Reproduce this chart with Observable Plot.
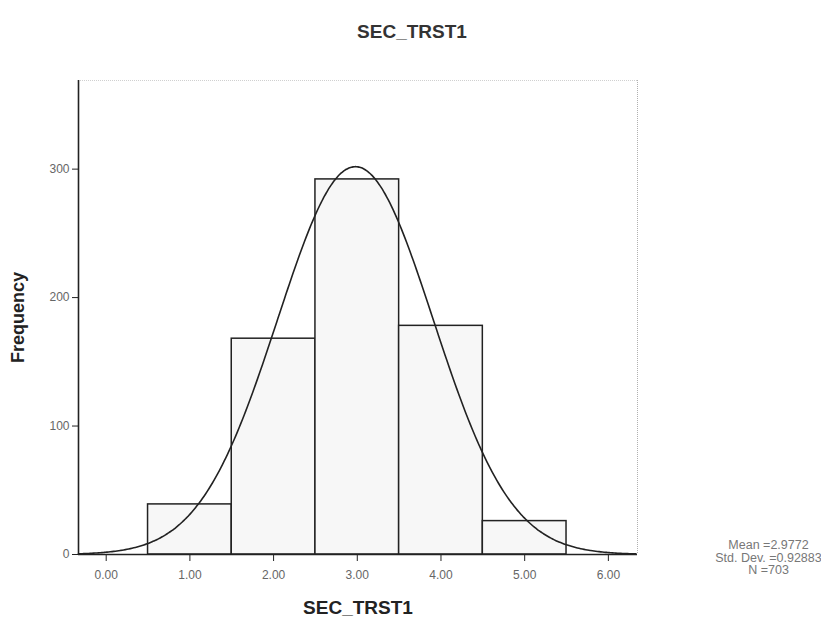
<!DOCTYPE html>
<html>
<head>
<meta charset="utf-8">
<script src="https://cdn.jsdelivr.net/npm/d3@7"></script>
<script src="https://cdn.jsdelivr.net/npm/@observablehq/plot@0.6"></script>
<style>
  html, body { margin: 0; padding: 0; background: #fff; }
  #chart svg { display: block; font-family: "Liberation Sans", Arial, sans-serif; }
</style>
</head>
<body>
<div id="chart"></div>
<script>
// Histogram bins (value centers) and frequencies
const binCenters = [1, 2, 3, 4, 5];
const frequencies = [39, 168, 292, 178, 26];
const binWidth = 1;

// Summary statistics shown in the legend
const statMean = 2.9772;
const statSD = 0.92883;
const statN = 703;

// Axis ticks
const xTicks = [0, 1, 2, 3, 4, 5, 6];
const yTicks = [0, 100, 200, 300];

const title = "SEC_TRST1";
const xLabel = "SEC_TRST1";
const yLabel = "Frequency";

const xDomain = [-0.331, 6.348];
const yDomain = [0, 369];

const bars = binCenters.map((c, i) => ({x1: c - binWidth / 2, x2: c + binWidth / 2, y: frequencies[i]}));

// fitted normal curve (from the shown mean, std. dev. and N)
const curve = d3.range(xDomain[0], xDomain[1] + 0.001, 0.02).map(x => ({
  x,
  y: statN * binWidth * Math.exp(-0.5 * ((x - statMean) / statSD) ** 2) / (statSD * Math.sqrt(2 * Math.PI))
}));

const chart = Plot.plot({
  width: 821,
  height: 625,
  marginLeft: 78,
  marginRight: 184,
  marginTop: 80,
  marginBottom: 71,
  style: {background: "#fff", fontFamily: "Liberation Sans, Arial, sans-serif"},
  x: {domain: xDomain},
  y: {domain: yDomain},
  marks: [
    // faint frame top & right
    Plot.ruleY([yDomain[1]], {stroke: "#d0d0d0", strokeDasharray: "1,1"}),
    Plot.ruleX([xDomain[1]], {stroke: "#b0b0b0", strokeDasharray: "1,1"}),
    Plot.rectY(bars, {x1: "x1", x2: "x2", y: "y", fill: "#f7f7f7", stroke: "#222", strokeWidth: 1.5, inset: 0}),
    Plot.line(curve, {x: "x", y: "y", stroke: "#222", strokeWidth: 1.6, curve: "basis"}),
    Plot.ruleX([xDomain[0]], {stroke: "#222", strokeWidth: 1.6}),
    Plot.ruleY([0], {stroke: "#222", strokeWidth: 1.6}),
    Plot.axisY({ticks: yTicks, tickSize: 6, tickPadding: 3, fontSize: 12, color: "#666", stroke: "#222", label: null, tickFormat: d3.format("d")}),
    Plot.axisX({ticks: xTicks, tickSize: 7, tickPadding: 9, fontSize: 12, color: "#666", stroke: "#222", label: null, tickFormat: d => d.toFixed(2)}),
    Plot.text([title], {frameAnchor: "top", dx: 54, dy: -49, lineAnchor: "middle", textAnchor: "middle", fontSize: 19, fontWeight: "bold", fill: "#333"}),
    Plot.text([xLabel], {frameAnchor: "bottom", dy: 53, lineAnchor: "middle", textAnchor: "middle", fontSize: 19, fontWeight: "bold", fill: "#222"}),
    Plot.text([yLabel], {frameAnchor: "left", dx: -60, rotate: -90, lineAnchor: "middle", textAnchor: "middle", fontSize: 18, fontWeight: "bold", fill: "#222"}),
    Plot.text([`Mean =${statMean}\nStd. Dev. =${statSD}\nN =${statN}`], {frameAnchor: "bottom-right", dx: 131, dy: 3, lineAnchor: "middle", textAnchor: "middle", lineHeight: 1.0, fontSize: 12.5, fill: "#777"})
  ]
});
document.getElementById("chart").appendChild(chart);
</script>
</body>
</html>
